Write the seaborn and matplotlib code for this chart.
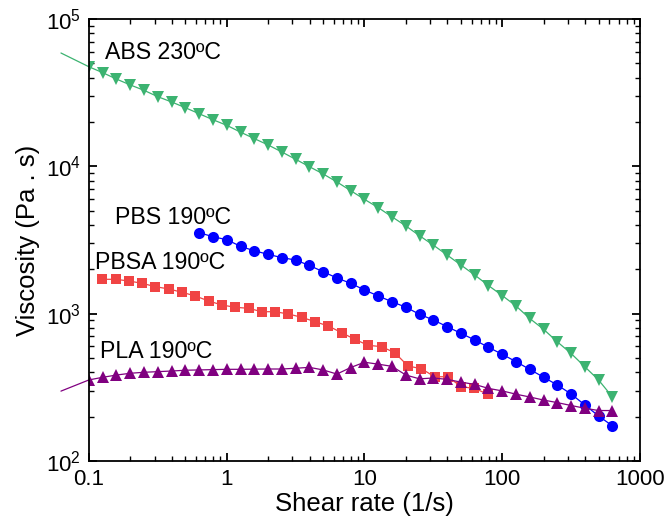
import matplotlib
matplotlib.use("Agg")
import matplotlib.pyplot as plt
import matplotlib.ticker as mticker
import seaborn as sns
import pandas as pd

# ---------------- data ----------------
rate = [0.1, 0.126, 0.158, 0.2, 0.251, 0.316, 0.398, 0.501, 0.631, 0.794,
        1.0, 1.26, 1.58, 2.0, 2.51, 3.16, 3.98, 5.01, 6.31, 7.94,
        10.0, 12.6, 15.8, 20.0, 25.1, 31.6, 39.8, 50.1, 63.1, 79.4,
        100.0, 126.0, 158.0, 200.0, 251.0, 316.0, 398.0, 501.0, 631.0]

abs_visc = [47400, 43200, 39150, 35650, 32800, 29700, 27350, 25000, 22750, 20730,
            18990, 17060, 15450, 13960, 12520, 11170, 9950, 8880, 7830, 6840,
            5970, 5240, 4550, 3935, 3380, 2920, 2500, 2140, 1830, 1552,
            1327, 1127, 929, 782, 644, 537, 436, 354, 272]

pbs_rate = rate[8:]
pbs_visc = [3544, 3330, 3177, 2865, 2673, 2528, 2399, 2314, 2123, 1927,
            1746, 1607, 1448, 1318, 1206, 1105, 990, 906, 816, 736,
            663, 591, 530, 472, 419, 370, 328, 285, 240, 202, 173]

pbsa_rate = [0.125, 0.156, 0.195, 0.243, 0.304, 0.380, 0.474, 0.592, 0.739, 0.923,
             1.15, 1.44, 1.80, 2.24, 2.80, 3.50, 4.37, 5.46, 6.82, 8.51,
             10.6, 13.3, 16.6, 20.7, 25.9, 32.3, 40.3, 50.4, 62.9, 78.6]
pbsa_visc = [1711, 1711, 1666, 1607, 1524, 1471, 1396, 1318, 1219, 1145,
             1105, 1087, 1031, 1031, 995, 945, 882, 825, 743, 670,
             610, 597, 543, 441, 423, 373, 373, 319, 311, 284]

pla_visc = [355, 370, 383, 394, 400, 404, 408, 413, 415, 417,
            419, 419, 420, 421, 421, 426, 432, 415, 389, 431,
            468, 454, 439, 383, 361, 366, 358, 343, 331, 311,
            299, 284, 272, 259, 249, 238, 228, 220, 220]

# model-fit extrapolation drawn to the left of the first point
abs_ext_rate = [0.0626, 0.1]
abs_ext_visc = [58800, 47400]
pla_ext_rate = [0.0626, 0.1]
pla_ext_visc = [298, 355]

labels = ["ABS 230ºC", "PBS 190ºC", "PBSA 190ºC", "PLA 190ºC"]
x_ticks = [0.1, 1, 10, 100, 1000]
x_tick_labels = ["0.1", "1", "10", "100", "1000"]
y_ticks = [1e2, 1e3, 1e4, 1e5]
y_tick_labels = [r"$\mathregular{10^{2}}$", r"$\mathregular{10^{3}}$",
                 r"$\mathregular{10^{4}}$", r"$\mathregular{10^{5}}$"]

# ---------------- style ----------------
sns.set_style("ticks")
plt.rcParams["font.family"] = ["Liberation Sans", "DejaVu Sans"]
plt.rcParams["mathtext.fontset"] = "custom"
plt.rcParams["mathtext.rm"] = "Liberation Sans"
plt.rcParams["mathtext.it"] = "Liberation Sans:italic"
plt.rcParams["mathtext.bf"] = "Liberation Sans:bold"
for k in ["text.color", "axes.labelcolor", "xtick.color", "ytick.color",
          "xtick.labelcolor", "ytick.labelcolor", "axes.edgecolor"]:
    plt.rcParams[k] = "black"

GREEN = "#3CB371"
BLUE = "#0000FF"
RED = "#F04444"
PURPLE = "#800080"

fig = plt.figure(figsize=(6.67, 5.21), dpi=100)
ax = fig.add_axes([0.1334, 0.1152, 0.8261, 0.8483])

def draw(x, y, color, marker, ms):
    df = pd.DataFrame({"x": x, "y": y})
    sns.lineplot(data=df, x="x", y="y", ax=ax, color=color, marker=marker,
                 markersize=ms, markeredgewidth=0, linewidth=0.9,
                 estimator=None, sort=False, legend=False)

draw(pbsa_rate, pbsa_visc, RED, "s", 7.0)
draw(pbs_rate, pbs_visc, BLUE, "o", 8.0)
draw(rate, pla_visc, PURPLE, "^", 8.7)
draw(rate, abs_visc, GREEN, "v", 8.7)

ax.plot(abs_ext_rate, abs_ext_visc, color=GREEN, lw=0.9, clip_on=False)
ax.plot(pla_ext_rate, pla_ext_visc, color=PURPLE, lw=0.9, clip_on=False)

ax.set_xscale("log")
ax.set_yscale("log")
ax.set_xlim(0.1, 1000)
ax.set_ylim(100, 1e5)

ax.xaxis.set_major_locator(mticker.FixedLocator(x_ticks))
ax.xaxis.set_major_formatter(mticker.FixedFormatter(x_tick_labels))
ax.yaxis.set_major_locator(mticker.FixedLocator(y_ticks))
ax.yaxis.set_major_formatter(mticker.FixedFormatter(y_tick_labels))
ax.xaxis.set_minor_locator(mticker.LogLocator(base=10, subs=range(2, 10), numticks=20))
ax.yaxis.set_minor_locator(mticker.LogLocator(base=10, subs=range(2, 10), numticks=20))
ax.xaxis.set_minor_formatter(mticker.NullFormatter())
ax.yaxis.set_minor_formatter(mticker.NullFormatter())

ax.tick_params(which="both", direction="in", top=True, right=True, color="black",
               labelcolor="black")
ax.tick_params(which="major", length=6, width=1.3, labelsize=16, pad=6)
ax.tick_params(which="minor", length=3.5, width=1.0)
for s in ax.spines.values():
    s.set_linewidth(1.3)
    s.set_color("black")

ax.set_xlabel("Shear rate (1/s)", fontsize=18.5, labelpad=1, color="black")
ax.set_ylabel("Viscosity (Pa . s)", fontsize=18.5, labelpad=4, color="black")

tkw = dict(transform=ax.transAxes, fontsize=16.7, va="center", ha="left", color="black")
ax.text(0.029, 0.925, labels[0], **tkw)
ax.text(0.047, 0.55, labels[1], **tkw)
ax.text(0.011, 0.448, labels[2], **tkw)
ax.text(0.020, 0.247, labels[3], **tkw)

fig.savefig("out.png", dpi=100)
